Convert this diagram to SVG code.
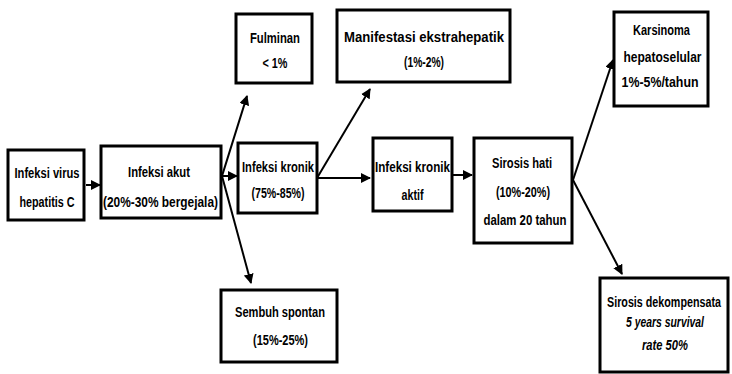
<svg xmlns="http://www.w3.org/2000/svg" width="732" height="374" viewBox="0 0 732 374">
<style>
.box{fill:#fff;stroke:#000;stroke-width:3}
text{font-family:"Liberation Sans Narrow","Arial Narrow","Liberation Sans",sans-serif;font-weight:bold;font-size:14px;fill:#000;text-anchor:middle}
.it{font-style:italic}
.c{stroke:#000;stroke-width:2;fill:none}
</style>
<defs>
<marker id="ah" viewBox="0 0 10 10" refX="9" refY="5" markerWidth="5" markerHeight="5" orient="auto" markerUnits="strokeWidth">
<path d="M0,0 L10,5 L0,10 z" fill="#000"/>
</marker>
</defs>
<rect width="732" height="374" fill="#fff"/>
<g id="connectors">
<line class="c" x1="86" y1="185" x2="100" y2="185" marker-end="url(#ah)"/>
<line class="c" x1="222" y1="176" x2="247" y2="96" marker-end="url(#ah)"/>
<line class="c" x1="222" y1="176" x2="237" y2="176" marker-end="url(#ah)"/>
<line class="c" x1="222" y1="176" x2="251" y2="283" marker-end="url(#ah)"/>
<line class="c" x1="317" y1="178" x2="370" y2="89" marker-end="url(#ah)"/>
<line class="c" x1="317" y1="178" x2="370" y2="178" marker-end="url(#ah)"/>
<line class="c" x1="453" y1="175" x2="472" y2="175" marker-end="url(#ah)"/>
<line class="c" x1="573" y1="180" x2="613" y2="60" marker-end="url(#ah)"/>
<line class="c" x1="573" y1="180" x2="622" y2="274" marker-end="url(#ah)"/>
</g>
<g id="n1"><rect class="box" x="8" y="150" width="76" height="70"/>
<text x="47" y="178" textLength="65" lengthAdjust="spacingAndGlyphs">Infeksi virus</text><text x="47" y="207" textLength="55" lengthAdjust="spacingAndGlyphs">hepatitis C</text></g>
<g id="n2"><rect class="box" x="101" y="146" width="120" height="72"/>
<text x="159" y="177" textLength="62" lengthAdjust="spacingAndGlyphs">Infeksi akut</text><text x="160.5" y="207" textLength="115" lengthAdjust="spacingAndGlyphs">(20%-30% bergejala)</text></g>
<g id="n3"><rect class="box" x="238" y="143" width="79" height="70"/>
<text x="278" y="172" textLength="72" lengthAdjust="spacingAndGlyphs">Infeksi kronik</text><text x="278" y="198" textLength="53" lengthAdjust="spacingAndGlyphs">(75%-85%)</text></g>
<g id="n4"><rect class="box" x="373" y="138" width="79" height="73"/>
<text x="412.5" y="172" textLength="75" lengthAdjust="spacingAndGlyphs">Infeksi kronik</text><text x="412.5" y="200" textLength="22" lengthAdjust="spacingAndGlyphs">aktif</text></g>
<g id="n5"><rect class="box" x="474" y="138" width="98" height="105"/>
<text x="522" y="168" textLength="60" lengthAdjust="spacingAndGlyphs">Sirosis hati</text><text x="523" y="197" textLength="54" lengthAdjust="spacingAndGlyphs">(10%-20%)</text><text x="525" y="225" textLength="83" lengthAdjust="spacingAndGlyphs">dalam 20 tahun</text></g>
<g id="n6"><rect class="box" x="236" y="14" width="76" height="69"/>
<text x="275" y="43" textLength="50" lengthAdjust="spacingAndGlyphs">Fulminan</text><text x="275" y="68" textLength="25" lengthAdjust="spacingAndGlyphs">&lt; 1%</text></g>
<g id="n7"><rect class="box" x="337" y="10" width="173" height="72"/>
<text x="424" y="42" textLength="160" lengthAdjust="spacingAndGlyphs">Manifestasi ekstrahepatik</text><text x="424" y="67" textLength="40" lengthAdjust="spacingAndGlyphs">(1%-2%)</text></g>
<g id="n8"><rect class="box" x="614" y="12" width="94" height="94"/>
<text x="661.5" y="35" textLength="57" lengthAdjust="spacingAndGlyphs">Karsinoma</text><text x="662.5" y="62" textLength="78" lengthAdjust="spacingAndGlyphs">hepatoselular</text><text x="660" y="87" textLength="77" lengthAdjust="spacingAndGlyphs">1%-5%/tahun</text></g>
<g id="n9"><rect class="box" x="221" y="290" width="116" height="72"/>
<text x="280" y="317" textLength="90" lengthAdjust="spacingAndGlyphs">Sembuh spontan</text><text x="280.5" y="345" textLength="55" lengthAdjust="spacingAndGlyphs">(15%-25%)</text></g>
<g id="n10"><rect class="box" x="600" y="278" width="128" height="94"/>
<text transform="scale(0.767,1)" x="865.7" y="307">Sirosis dekompensata</text><text class="it" x="665" y="327" textLength="78" lengthAdjust="spacingAndGlyphs">5 years survival</text><text class="it" x="665" y="350" textLength="46" lengthAdjust="spacingAndGlyphs">rate 50%</text></g>
</svg>
